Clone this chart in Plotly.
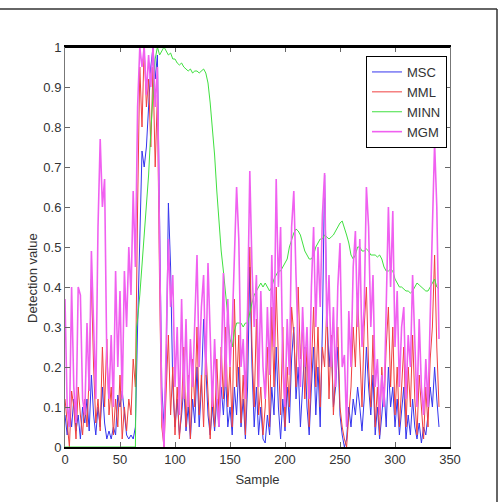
import plotly.graph_objects as go

# sample positions (every 2nd sample)
samples = list(range(0, 342, 2))

msc = [
    0.08, 0.03, 0.10, 0.05, 0.12, 0.04, 0.08, 0.02, 0.10, 0.06,
    0.12, 0.04, 0.18, 0.08, 0.03, 0.10, 0.05, 0.15, 0.06, 0.02,
    0.04, 0.02, 0.05, 0.03, 0.13, 0.10, 0.14, 0.08, 0.03, 0.02,
    0.03, 0.02, 0.05, 0.30, 0.55, 0.74, 0.70, 0.75, 0.85, 0.95,
    1.00, 0.92, 0.98, 0.60, 0.15, 0.05, 0.20, 0.61, 0.45, 0.15,
    0.05, 0.12, 0.03, 0.08, 0.15, 0.04, 0.10, 0.02, 0.12, 0.06,
    0.20, 0.05, 0.15, 0.32, 0.20, 0.08, 0.03, 0.10, 0.04, 0.12,
    0.05, 0.15, 0.08, 0.18, 0.05, 0.10, 0.03, 0.15, 0.08, 0.20,
    0.05, 0.12, 0.02, 0.15, 0.45, 0.20, 0.05, 0.15, 0.03, 0.10,
    0.02, 0.01, 0.08, 0.03, 0.15, 0.08, 0.25, 0.10, 0.02, 0.12,
    0.04, 0.15, 0.06, 0.22, 0.30, 0.12, 0.20, 0.05, 0.15, 0.25,
    0.10, 0.03, 0.15, 0.25, 0.08, 0.20, 0.05, 0.30, 0.68, 0.35,
    0.20, 0.28, 0.10, 0.15, 0.25, 0.08, 0.03, 0.00, 0.02, 0.10,
    0.05, 0.12, 0.08, 0.15, 0.10, 0.04, 0.12, 0.25, 0.15, 0.08,
    0.18, 0.03, 0.10, 0.02, 0.08, 0.15, 0.05, 0.20, 0.10, 0.15,
    0.05, 0.12, 0.03, 0.10, 0.15, 0.02, 0.08, 0.03, 0.12, 0.05,
    0.02, 0.06, 0.01, 0.05, 0.03, 0.08, 0.15, 0.10, 0.20, 0.12,
    0.05,
]

mml = [
    0.12, 0.05, 0.00, 0.14, 0.10, 0.02, 0.15, 0.08, 0.03, 0.12,
    0.05, 0.18, 0.42, 0.20, 0.06, 0.12, 0.04, 0.25, 0.10, 0.27,
    0.08, 0.15, 0.03, 0.12, 0.05, 0.18, 0.02, 0.10, 0.04, 0.12,
    0.08, 0.22, 0.15, 0.60, 0.95, 0.80, 1.00, 0.85, 0.92, 0.75,
    0.95, 0.70, 0.88, 0.40, 0.05, 0.00, 0.12, 0.28, 0.08, 0.20,
    0.03, 0.15, 0.02, 0.10, 0.25, 0.05, 0.18, 0.02, 0.22, 0.10,
    0.30, 0.08, 0.18, 0.05, 0.25, 0.12, 0.02, 0.15, 0.05, 0.22,
    0.08, 0.25, 0.12, 0.30, 0.10, 0.20, 0.05, 0.37, 0.15, 0.28,
    0.06, 0.18, 0.03, 0.30, 0.50, 0.25, 0.10, 0.32, 0.08, 0.15,
    0.03, 0.10, 0.25, 0.05, 0.35, 0.15, 0.40, 0.22, 0.08, 0.30,
    0.05, 0.20, 0.10, 0.35, 0.28, 0.15, 0.40, 0.22, 0.30, 0.12,
    0.25, 0.05, 0.20, 0.35, 0.15, 0.30, 0.10, 0.25, 0.20, 0.35,
    0.12, 0.28, 0.08, 0.20, 0.30, 0.10, 0.05, 0.02, 0.00, 0.08,
    0.15, 0.30, 0.20, 0.38, 0.25, 0.10, 0.30, 0.40, 0.20, 0.10,
    0.28, 0.05, 0.15, 0.03, 0.20, 0.10, 0.25, 0.35, 0.15, 0.30,
    0.08, 0.20, 0.05, 0.15, 0.25, 0.05, 0.20, 0.10, 0.28, 0.12,
    0.03, 0.18, 0.10, 0.02, 0.15, 0.05, 0.22, 0.30, 0.48, 0.25,
    0.10,
]

mgm = [
    0.37, 0.10, 0.05, 0.40, 0.15, 0.06, 0.40, 0.38, 0.12, 0.08,
    0.31, 0.14, 0.49, 0.30, 0.12, 0.55, 0.77, 0.60, 0.67, 0.22,
    0.12, 0.28, 0.10, 0.44, 0.20, 0.39, 0.12, 0.44, 0.30, 0.50,
    0.38, 0.64, 0.45, 0.85, 1.00, 0.95, 1.00, 0.88, 0.98, 0.90,
    1.00, 0.85, 0.95, 0.50, 0.10, 0.00, 0.25, 0.52, 0.35, 0.43,
    0.15, 0.30, 0.08, 0.37, 0.12, 0.32, 0.10, 0.27, 0.15, 0.30,
    0.48, 0.20, 0.35, 0.43, 0.18, 0.46, 0.25, 0.10, 0.27, 0.12,
    0.05, 0.20, 0.435, 0.15, 0.37, 0.20, 0.30, 0.50, 0.65, 0.52,
    0.20, 0.27, 0.12, 0.35, 0.69, 0.45, 0.30, 0.43, 0.15, 0.39,
    0.20, 0.12, 0.35, 0.18, 0.48, 0.25, 0.67, 0.40, 0.55, 0.20,
    0.10, 0.32, 0.18, 0.55, 0.64, 0.43, 0.25, 0.15, 0.35, 0.20,
    0.30, 0.12, 0.40, 0.55, 0.30, 0.50, 0.35, 0.58, 0.685, 0.30,
    0.43, 0.20, 0.35, 0.15, 0.40, 0.51, 0.20, 0.23, 0.05, 0.34,
    0.20, 0.45, 0.54, 0.30, 0.52, 0.25, 0.35, 0.65, 0.55, 0.30,
    0.43, 0.15, 0.22, 0.08, 0.18, 0.10, 0.35, 0.60, 0.40, 0.59,
    0.25, 0.39, 0.15, 0.30, 0.35, 0.12, 0.28, 0.20, 0.43, 0.25,
    0.10, 0.32, 0.15, 0.08, 0.22, 0.10, 0.35, 0.55, 0.76, 0.60,
    0.27,
]

minn_x = [0, 20, 40, 60, 64, 65, 66, 68, 70, 72, 74, 76, 78, 80, 82, 84, 86, 88, 90,
          92, 94, 96, 98, 100, 102, 104, 106, 108, 110, 112, 114, 116, 118, 120,
          122, 124, 126, 128, 130, 132, 134, 136, 138, 140, 142, 144, 146, 148,
          150, 152, 154, 156, 158, 160, 162, 164, 166, 168, 170, 172, 174, 176,
          178, 180, 182, 184, 186, 188, 190, 192, 194, 196, 198, 200, 202, 204,
          206, 208, 210, 212, 214, 216, 218, 220, 222, 224, 226, 228, 230, 232,
          234, 236, 238, 240, 242, 244, 246, 248, 250, 252, 254, 256, 258, 260,
          262, 264, 266, 268, 270, 272, 274, 276, 278, 280, 282, 284, 286, 288,
          290, 292, 294, 296, 298, 300, 302, 304, 306, 308, 310, 312, 314, 316,
          318, 320, 322, 324, 326, 328, 330, 332, 334, 336, 338, 340]
minn_y = [0.0, 0.0, 0.0, 0.0, 0.0, 0.30, 0.32, 0.38, 0.45, 0.52, 0.60, 0.68, 0.79, 0.89, 0.97, 1.0, 0.98, 0.99, 1.0,
          0.99, 0.98, 0.985, 0.97, 0.97, 0.96, 0.955, 0.96, 0.95, 0.945, 0.94, 0.945, 0.935, 0.94, 0.94,
          0.935, 0.94, 0.945, 0.935, 0.91, 0.86, 0.80, 0.73, 0.64, 0.56, 0.49, 0.44, 0.38, 0.32,
          0.27, 0.25, 0.29, 0.31, 0.31, 0.31, 0.30, 0.31, 0.31, 0.34, 0.36, 0.38, 0.39, 0.40,
          0.41, 0.40, 0.41, 0.40, 0.39, 0.40, 0.42, 0.43, 0.44, 0.44, 0.45, 0.46, 0.47, 0.50,
          0.52, 0.535, 0.545, 0.54, 0.53, 0.51, 0.49, 0.48, 0.47, 0.47, 0.48, 0.50, 0.51, 0.52,
          0.52, 0.53, 0.525, 0.52, 0.525, 0.53, 0.54, 0.55, 0.56, 0.565, 0.55, 0.53, 0.51, 0.48,
          0.47, 0.48, 0.50, 0.50, 0.49, 0.49, 0.495, 0.49, 0.48, 0.48, 0.48, 0.475, 0.48, 0.47,
          0.45, 0.44, 0.44, 0.445, 0.44, 0.42, 0.41, 0.40, 0.40, 0.395, 0.39, 0.39, 0.385, 0.39,
          0.40, 0.41, 0.405, 0.40, 0.395, 0.39, 0.39, 0.40, 0.41, 0.42, 0.40, 0.395]

x_ticks = [0, 50, 100, 150, 200, 250, 300, 350]
y_ticks = [0, 0.1, 0.2, 0.3, 0.4, 0.5, 0.6, 0.7, 0.8, 0.9, 1]

FONT = "Liberation Sans, Arial, sans-serif"

fig = go.Figure()
fig.add_trace(go.Scatter(x=samples, y=msc, name="MSC", mode="lines",
                         line=dict(color="#3535ee", width=1)))
fig.add_trace(go.Scatter(x=samples, y=mml, name="MML", mode="lines",
                         line=dict(color="#f04040", width=1)))
fig.add_trace(go.Scatter(x=minn_x, y=minn_y, name="MINN", mode="lines",
                         line=dict(color="#40e040", width=1)))
fig.add_trace(go.Scatter(x=samples, y=mgm, name="MGM", mode="lines",
                         line=dict(color="#f060f0", width=1.6)))

L, R, T, B = 65, 48, 47, 55
W, H = 498, 502
pw, ph = W - L - R, H - T - B

def px(xp):
    return (xp - L) / pw

def py(yp):
    return (H - B - yp) / ph

tickfont = dict(family=FONT, size=13, color="#333")

fig.update_layout(
    width=W, height=H,
    margin=dict(l=L, r=R, t=T, b=B),
    paper_bgcolor="white", plot_bgcolor="white",
    showlegend=True,
    legend=dict(x=px(366), y=py(56), xanchor="left", yanchor="top",
                bgcolor="white", bordercolor="black", borderwidth=1,
                font=dict(family=FONT, size=13, color="#333"),
                itemwidth=30, tracegroupgap=0),
    xaxis=dict(range=[0, 350], tickvals=x_ticks, showgrid=False, zeroline=False,
               ticks="inside", ticklen=5, tickcolor="#666", showline=True,
               linecolor="black", linewidth=1.5, mirror="ticks", tickfont=tickfont,
               title=dict(text="Sample", font=dict(family=FONT, size=13, color="#333"), standoff=9)),
    yaxis=dict(range=[0, 1], tickvals=y_ticks, showgrid=False, zeroline=False,
               ticks="inside", ticklen=5, tickcolor="#666", showline=True,
               linecolor="#777", linewidth=1, mirror="ticks", tickfont=tickfont),
    annotations=[dict(text="Detection value", x=px(32), y=py(278), xref="paper", yref="paper",
                      xanchor="center", yanchor="middle",
                      textangle=-90, showarrow=False,
                      font=dict(family=FONT, size=13, color="#333"))],
    shapes=[
        dict(type="line", xref="paper", yref="paper", x0=0, x1=1, y0=1, y1=1,
             line=dict(color="black", width=2)),
        dict(type="line", xref="paper", yref="paper", x0=px(0), x1=px(497), y0=py(9), y1=py(9),
             line=dict(color="#333", width=1.5)),
        dict(type="line", xref="paper", yref="paper", x0=px(497), x1=px(497), y0=py(9), y1=py(502),
             line=dict(color="#333", width=1.5)),
    ],
)

fig.write_html("out.html")
